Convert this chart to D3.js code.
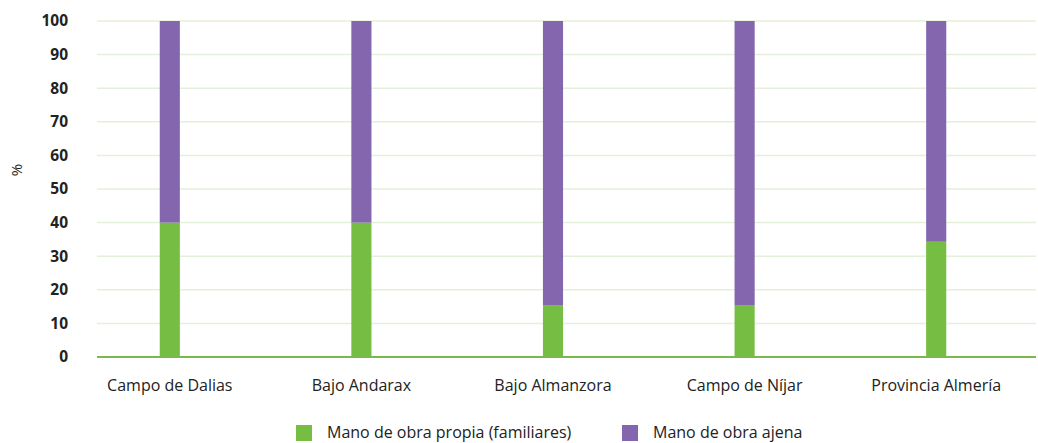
<!DOCTYPE html>
<html>
<head>
<meta charset="utf-8">
<script src="https://cdn.jsdelivr.net/npm/d3@7"></script>
<style>
  html, body { margin: 0; padding: 0; background: #fff; }
  svg { display: block; font-family: "Open Sans", "Noto Sans", sans-serif; }
</style>
</head>
<body>
<svg id="chart" width="1038" height="443"></svg>
<script>
const categories = ["Campo de Dalias", "Bajo Andarax", "Bajo Almanzora", "Campo de Níjar", "Provincia Almería"];
const propia = [40, 40, 15.3, 15.3, 34.3];
const ajena = [60, 60, 84.7, 84.7, 65.7];
const seriesNames = ["Mano de obra propia (familiares)", "Mano de obra ajena"];
const seriesColors = ["#76bd43", "#8466ae"];
const yTicks = [0, 10, 20, 30, 40, 50, 60, 70, 80, 90, 100];

const svg = d3.select("#chart");
const gridLeft = 97, gridRight = 1036;
const plotTop = 21, plotBottom = 357;

const x = d3.scaleBand().domain(categories).range([74, 1032]).paddingInner(0.895).paddingOuter(0.4475);
const y = d3.scaleLinear().domain([0, 100]).range([plotBottom, plotTop]);

// gridlines
svg.append("g").selectAll("line").data(yTicks.filter(d => d > 0)).join("line")
  .attr("x1", gridLeft).attr("x2", gridRight)
  .attr("y1", d => y(d)).attr("y2", d => y(d))
  .attr("stroke", "#e5f0da").attr("stroke-width", 1.5);

// y axis labels
const yAxis = d3.axisLeft(y).tickValues(yTicks).tickSize(0).tickPadding(0).tickFormat(d3.format("d"));
const ya = svg.append("g").attr("transform", "translate(68,0)").call(yAxis);
ya.select(".domain").remove();
ya.selectAll("text").attr("font-size", 15.5).attr("font-weight", "bold").attr("fill", "#222")
  .attr("font-family", "\"Open Sans\", sans-serif");

// stacked bars
const rows = categories.map((c, i) => ({cat: c, propia: propia[i], ajena: ajena[i]}));
const stack = d3.stack().keys(["propia", "ajena"])(rows);
svg.append("g").selectAll("g").data(stack).join("g")
  .attr("fill", (d, i) => seriesColors[i])
  .selectAll("rect").data(d => d).join("rect")
  .attr("x", d => x(d.data.cat))
  .attr("width", x.bandwidth())
  .attr("y", d => y(d[1]))
  .attr("height", d => y(d[0]) - y(d[1]));

// baseline
svg.append("line").attr("x1", gridLeft).attr("x2", gridRight)
  .attr("y1", y(0)).attr("y2", y(0))
  .attr("stroke", "#7ab84e").attr("stroke-width", 2);

// category labels
const xAxis = d3.axisBottom(x).tickSize(0).tickPadding(0);
const xa = svg.append("g").attr("transform", `translate(0,${plotBottom + 34})`).call(xAxis);
xa.select(".domain").remove();
xa.selectAll("text").attr("font-size", 16).attr("fill", "#222").attr("dy", "0")
  .attr("font-family", "\"Open Sans\", sans-serif");

// y title
svg.append("text").attr("transform", "translate(22,170) rotate(-90)")
  .attr("text-anchor", "middle").attr("font-size", 15).attr("fill", "#222").text("%");

// legend
const legendX = [296, 622];
const lg = svg.append("g").selectAll("g").data(seriesNames).join("g")
  .attr("transform", (d, i) => `translate(${legendX[i]},425)`);
lg.append("rect").attr("width", 16).attr("height", 16).attr("fill", (d, i) => seriesColors[i]);
lg.append("text").attr("x", 31).attr("y", 13).attr("font-size", 16).attr("fill", "#222").text(d => d);
</script>
</body>
</html>
